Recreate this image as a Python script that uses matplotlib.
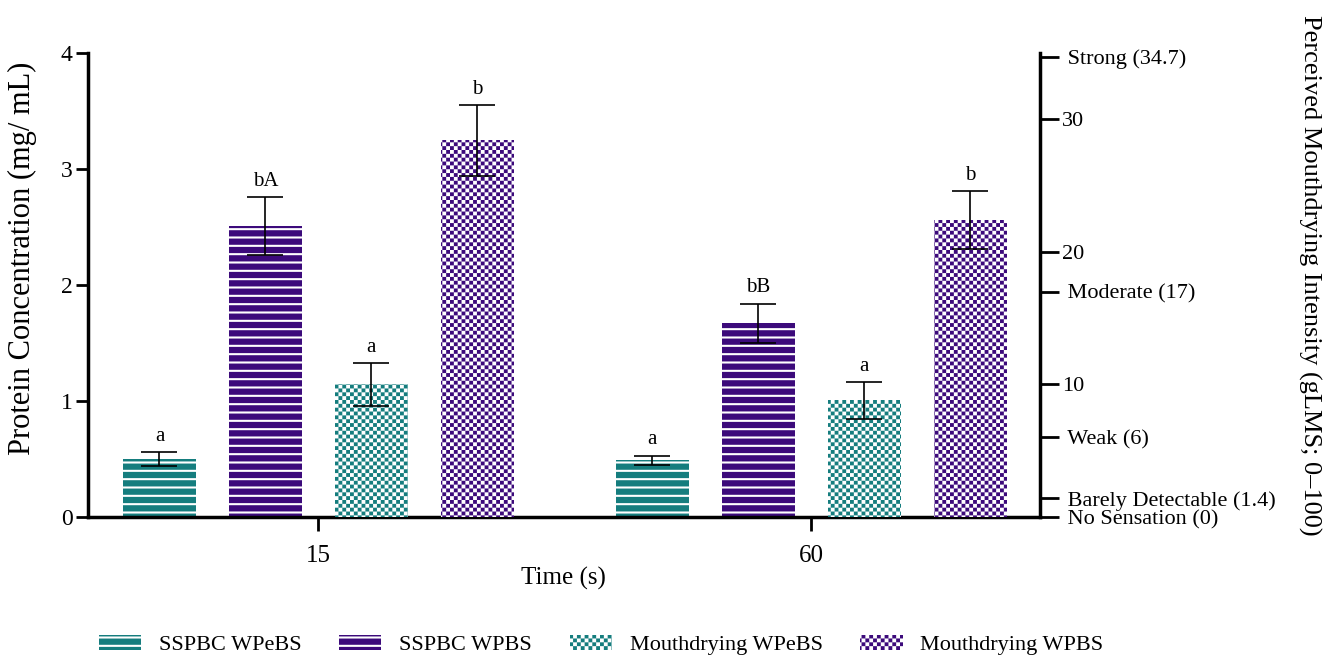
import numpy as np
import matplotlib
matplotlib.use('Agg')
import matplotlib.pyplot as plt
import matplotlib.hatch as mhatch
from matplotlib.path import Path

# data
times = ['15', '60']
sspbc_wpebs = [0.50, 0.49]
sspbc_wpebs_err = [0.06, 0.04]
sspbc_wpbs = [2.51, 1.67]
sspbc_wpbs_err = [0.25, 0.17]
mouth_wpebs = [10.0, 8.8]
mouth_wpebs_err = [1.6, 1.4]
mouth_wpbs = [28.4, 22.4]
mouth_wpbs_err = [2.7, 2.2]

sspbc_wpebs_letters = ['a', 'a']
sspbc_wpbs_letters = ['bA', 'bB']
mouth_wpebs_letters = ['a', 'a']
mouth_wpbs_letters = ['b', 'b']

left_ticks = [0, 1, 2, 3, 4]
right_ticks = [0, 1.4, 6, 10, 17, 20, 30, 34.7]
right_tick_labels = [' No Sensation (0)', ' Barely Detectable (1.4)', ' Weak (6)', '10',
                     ' Moderate (17)', '20', '30', ' Strong (34.7)']

TEAL = '#157d7e'
PURPLE = '#3c0a7b'


class CheckerHatch(mhatch.HatchPatternBase):
    """Filled checkerboard hatch, used for the '.' pattern."""
    filled = True

    def __init__(self, hatch, density):
        self.num_rows = 26 * hatch.count('.')
        self.num_vertices = 5 * (self.num_rows ** 2 // 2)

    def set_vertices_and_codes(self, vertices, codes):
        n = self.num_rows
        step = 1.0 / n
        shrink = plt.rcParams['hatch.linewidth'] / 72.0
        size = step - shrink
        k = 0
        for i in range(n):
            for j in range(n):
                if (i + j) % 2:
                    continue
                x0 = i * step + shrink / 2
                y0 = j * step + shrink / 2
                vertices[k:k + 5] = [(x0, y0), (x0 + size, y0), (x0 + size, y0 + size),
                                     (x0, y0 + size), (x0, y0)]
                codes[k:k + 5] = [Path.MOVETO, Path.LINETO, Path.LINETO,
                                  Path.LINETO, Path.CLOSEPOLY]
                k += 5


mhatch._hatch_types = [CheckerHatch if h is mhatch.SmallFilledCircles else h
                       for h in mhatch._hatch_types]

plt.rcParams['font.family'] = ['Liberation Serif', 'DejaVu Serif']
plt.rcParams['hatch.linewidth'] = 1.5

fig = plt.figure(figsize=(13.33, 6.6), dpi=100)
ax = fig.add_axes([0.066, 0.2167, 0.714, 0.703])
ax2 = ax.twinx()

x = np.arange(len(times))
step = 0.215
width = 0.148

err_kw = dict(ecolor='black', elinewidth=1.2, capsize=13, capthick=1.2)


def draw_bars(axis, pos, values, errors, letters, face, edge, hatch, label):
    bars = axis.bar(pos, values, width, yerr=errors, facecolor=face, edgecolor=edge,
                    linewidth=0, hatch=hatch, label=label, error_kw=err_kw, zorder=2)
    for xi, v, e, t in zip(pos, values, errors, letters):
        axis.annotate(t, (xi, v + e), xytext=(0, 8), textcoords='offset points',
                      ha='center', va='baseline', fontsize=15)
    return bars


h1 = draw_bars(ax, x - 1.5 * step, sspbc_wpebs, sspbc_wpebs_err, sspbc_wpebs_letters,
               TEAL, 'white', '--', 'SSPBC WPeBS')
h2 = draw_bars(ax, x - 0.5 * step, sspbc_wpbs, sspbc_wpbs_err, sspbc_wpbs_letters,
               PURPLE, 'white', '--', 'SSPBC WPBS')
h3 = draw_bars(ax2, x + 0.5 * step, mouth_wpebs, mouth_wpebs_err, mouth_wpebs_letters,
               'white', TEAL, '.', 'Mouthdrying WPeBS')
h4 = draw_bars(ax2, x + 1.5 * step, mouth_wpbs, mouth_wpbs_err, mouth_wpbs_letters,
               'white', PURPLE, '.', 'Mouthdrying WPBS')

ax.set_xlim(-0.4675, 1.4635)
ax.set_ylim(0, 4)
ax2.set_ylim(0, 35)

for s in ['top', 'right']:
    ax.spines[s].set_visible(False)
for s in ['top', 'left', 'bottom']:
    ax2.spines[s].set_visible(False)
ax.spines['left'].set_linewidth(2.5)
ax.spines['bottom'].set_linewidth(2.5)
ax2.spines['right'].set_linewidth(2.5)

ax.set_xticks(x)
ax.set_xticklabels(times)
ax.set_yticks(left_ticks)
ax.tick_params(axis='y', length=9, width=2, labelsize=17, pad=2)
ax.tick_params(axis='x', length=10, width=2, labelsize=18, pad=10)
ax2.set_yticks(right_ticks)
ax2.set_yticklabels(right_tick_labels)
ax2.tick_params(axis='y', length=14, width=2, labelsize=16, pad=2)

ax.set_xlabel('Time (s)', fontsize=18, labelpad=0)
fig.text(22 / 1333, 1 - 258 / 660, 'Protein Concentration (mg/ mL)', rotation=90,
         ha='center', va='center', fontsize=22)
fig.text(1310 / 1333, 1 - 275 / 660, 'Perceived Mouthdrying Intensity (gLMS; 0\u2013100)',
         rotation=270, ha='center', va='center', fontsize=19)

fig.legend(handles=[h1, h2, h3, h4], loc='center', bbox_to_anchor=(601 / 1333, 0.023),
           ncol=4, frameon=False, fontsize=16, handlelength=1.9, handleheight=0.7,
           handletextpad=0.8, columnspacing=1.7)

fig.savefig('out.png', dpi=100)
